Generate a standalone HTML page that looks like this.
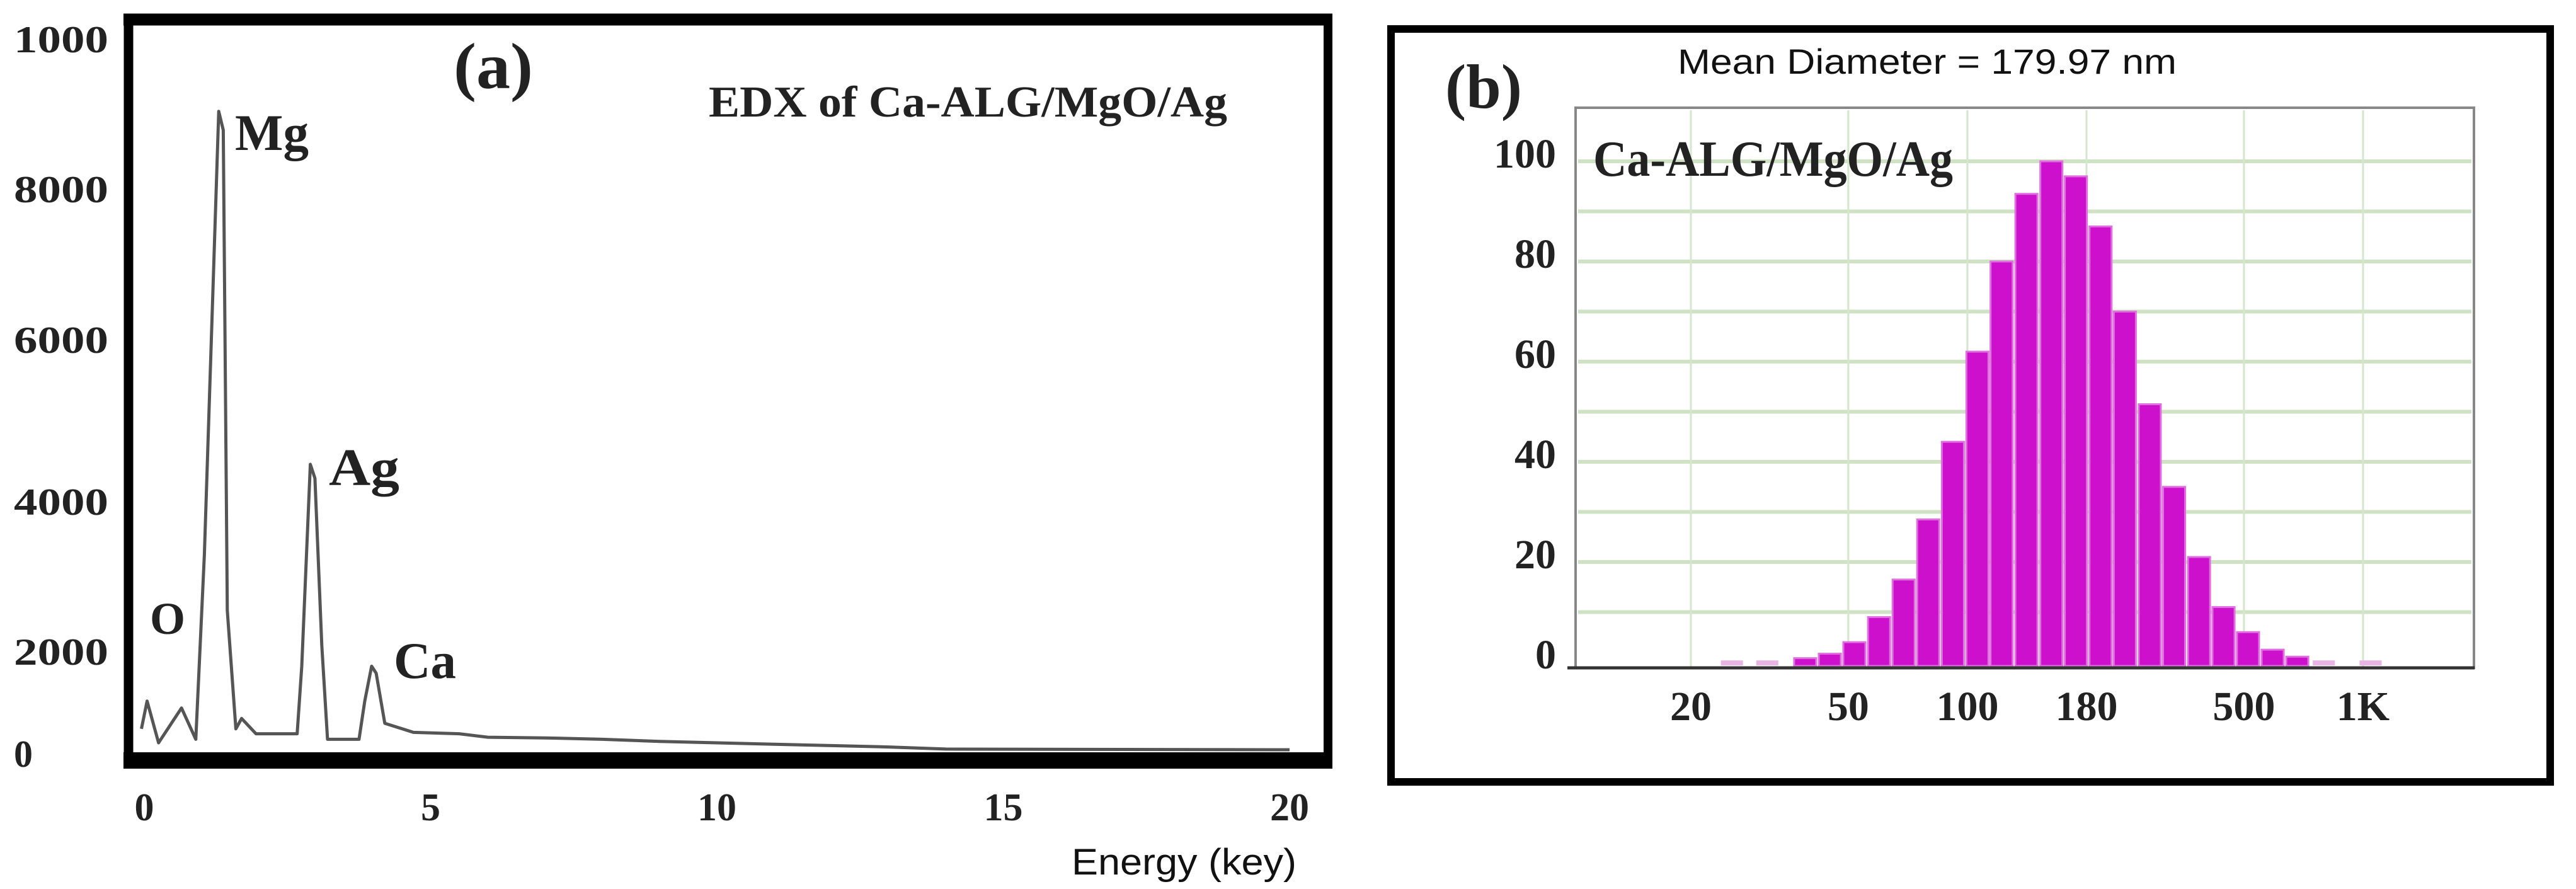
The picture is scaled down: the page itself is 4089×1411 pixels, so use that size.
<!DOCTYPE html>
<html><head><meta charset="utf-8"><style>
html,body{margin:0;padding:0;background:#fff}
svg{display:block}
.ser{font-family:"Liberation Serif",serif;font-weight:bold;fill:#222}
.sans{font-family:"Liberation Sans",sans-serif;fill:#111}
</style></head><body>
<svg id="fig" width="4089" height="1411" viewBox="0 0 4089 1411" xmlns="http://www.w3.org/2000/svg">
<rect width="4089" height="1411" fill="#fff"/>
<g id="pa">
  <line x1="204" y1="30" x2="204" y2="1215" stroke="#000" stroke-width="15"/>
  <line x1="196" y1="31" x2="2115" y2="31" stroke="#000" stroke-width="19"/>
  <line x1="2108" y1="24" x2="2108" y2="1218" stroke="#000" stroke-width="14"/>
  <line x1="196" y1="1207" x2="2115" y2="1207" stroke="#000" stroke-width="26"/>
  <text class="ser" x="720" y="140" font-size="104" font-weight="normal" textLength="126" lengthAdjust="spacingAndGlyphs">(a)</text>
  <text class="ser" x="1125" y="185" font-size="70" textLength="823" lengthAdjust="spacingAndGlyphs">EDX of Ca-ALG/MgO/Ag</text>
  <text class="ser" x="373" y="238" font-size="82" textLength="117" lengthAdjust="spacingAndGlyphs">Mg</text>
  <text class="ser" x="522" y="770" font-size="84" textLength="112" lengthAdjust="spacingAndGlyphs">Ag</text>
  <text class="ser" x="625" y="1076" font-size="82" textLength="99" lengthAdjust="spacingAndGlyphs">Ca</text>
  <text class="ser" x="238" y="1006" font-size="72" font-weight="normal">O</text>
  <text class="sans" x="1701" y="1388" font-size="58" textLength="357" lengthAdjust="spacingAndGlyphs">Energy (key)</text>
  <g id="aticks"></g>
  <path id="spec" fill="none" stroke="#555" stroke-width="5" stroke-linejoin="round"/>
</g>
<g id="pb">
  <rect x="2208" y="46" width="1840" height="1195" fill="none" stroke="#000" stroke-width="12"/>
  <text class="ser" x="2294" y="171" font-size="100" font-weight="normal" textLength="122" lengthAdjust="spacingAndGlyphs">(b)</text>
  <text class="sans" x="2663" y="117" font-size="56" textLength="792" lengthAdjust="spacingAndGlyphs">Mean Diameter = 179.97 nm</text>
  <rect x="2501" y="171" width="1426" height="889" fill="#fff" stroke="#888" stroke-width="4"/>
  <g id="bgrid"></g>
  <g id="bbars"></g>
  <line x1="2488" y1="1060" x2="3928" y2="1060" stroke="#333" stroke-width="5"/>
  <text class="ser" x="2529" y="279" font-size="80" textLength="571" lengthAdjust="spacingAndGlyphs">Ca-ALG/MgO/Ag</text>
  <g id="bticks"></g>
</g>
</svg>
<script>
// ---- EDX data ----
const edxTicksX = [0, 5, 10, 15, 20];
const edxTickLabelsY = ["1000", "8000", "6000", "4000", "2000", "0"];
const edxTickLabelBaseY = [83, 321, 560, 817, 1055, 1217];
const energy = [-0.05,0.05,0.25,0.65,0.9,1.05,1.3,1.38,1.45,1.6,1.7,1.95,2.67,2.75,2.9,2.98,3.1,3.2,3.75,3.85,3.97,4.05,4.2,4.7,5.5,6.0,7.0,8.0,9.0,10.0,11.0,12.0,13.0,14.0,20.0];
const counts = [300,700,100,600,150,2800,9170,8900,2000,300,450,230,230,1200,4100,3900,1500,150,150,700,1200,1100,380,250,230,180,170,150,120,100,80,60,40,10,0];
const ax = e => 229 + e * 90.9;
const ay = v => 1190 - v * 0.1105;
const NS = "http://www.w3.org/2000/svg";
function mk(tag, attrs, parent){const el=document.createElementNS(NS,tag);for(const k in attrs)el.setAttribute(k,attrs[k]);parent.appendChild(el);return el;}
let d = "";
energy.forEach((e,i)=>{ d += (i?"L":"M") + ax(Math.max(e,-0.1)).toFixed(1) + "," + ay(counts[i]).toFixed(1); });
document.getElementById("spec").setAttribute("d", d);
const at = document.getElementById("aticks");
edxTicksX.forEach(t=>{
  const tx = mk("text",{x:ax(t),y:1302,"font-size":62,"text-anchor":"middle",class:"ser"},at);
  tx.textContent = t;
  
  
});
edxTickLabelsY.forEach((s,i)=>{
  const attrs = {x:22,y:edxTickLabelBaseY[i],"font-size":60,class:"ser"};
  if(s.length===4){attrs.textLength=150;attrs.lengthAdjust="spacingAndGlyphs";}
  const tx = mk("text",attrs,at);
  tx.textContent = s;
  
  
});
// ---- DLS histogram data ----
const diameters = [38.9,44.9,51.8,59.8,69.0,79.6,91.9,106,122,141,163,188,217,250,289,333,385,444,512,591,682];
const intensity = [0.8,1.7,4,9,16.5,28.5,44,62,80,93.5,100,97,87,70,51.5,35,21,11,6,2.5,1.1];
const faintDiameters = [25.4,31.2,796,1045];
const faintIntensity = [0.6,0.6,0.6,0.6];
const xGridVals = [20,50,100,200,500,1000];
const xTickLabels = ["20","50","100","180","500","1K"];
const yTickVals = [0,20,40,60,80,100];
const bx = v => 2684 + 628 * Math.log10(v/20);
const by = v => 1051 - v * 7.95;
const binF = Math.sqrt(1.154);
const g = document.getElementById("bgrid");
for(let v=10; v<=100; v+=10){
  const l = mk("line",{x1:2505,x2:3923,y1:by(v),y2:by(v),stroke:"#cfe3c4","stroke-width":6},g);
  
  
}
xGridVals.forEach(v=>{
  const l = mk("line",{x1:bx(v),x2:bx(v),y1:175,y2:1058,stroke:"#d4e6cc","stroke-width":3},g);
  
  
});
const bb = document.getElementById("bbars");
diameters.forEach((dm,i)=>{
  const x0 = bx(dm/binF), x1 = bx(dm*binF);
  const r = mk("rect",{x:x0+2,y:by(intensity[i]),width:x1-x0-4,height:by(0)-by(intensity[i])+6,fill:"#cc10cc",stroke:"#e070e0","stroke-width":3},bb);
  
  
});
faintDiameters.forEach((dm,i)=>{
  const x0 = bx(dm/binF), x1 = bx(dm*binF);
  const r = mk("rect",{x:x0+2,y:by(faintIntensity[i])+2,width:x1-x0-4,height:8,fill:"#e8b4e4"},bb);
  
  
});
const bt = document.getElementById("bticks");
xGridVals.forEach((v,i)=>{
  const tx = mk("text",{x:bx(v),y:1143,"font-size":66,"text-anchor":"middle",class:"ser"},bt);
  tx.textContent = xTickLabels[i];
  
  
});
yTickVals.forEach(v=>{
  const tx = mk("text",{x:2470,y:by(v)+10,"font-size":66,"text-anchor":"end",class:"ser"},bt);
  tx.textContent = v;
  
  
});
</script>
</body></html>
